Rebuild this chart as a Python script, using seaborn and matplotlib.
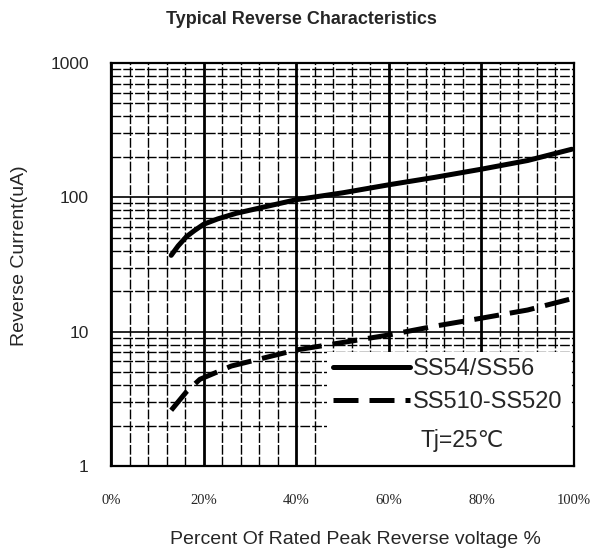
import matplotlib
matplotlib.use("Agg")
import numpy as np
import pandas as pd
import matplotlib.pyplot as plt
import seaborn as sns
from matplotlib.ticker import FixedLocator, FuncFormatter, NullFormatter
from matplotlib.patches import Rectangle
from matplotlib.lines import Line2D

# ---- data ----
pct_solid = [13, 14.5, 16.3, 18, 20, 23, 27, 40, 50, 60, 70, 80, 90, 99.5]
ir_solid = [37, 43.5, 51, 56.5, 63, 69, 76, 96, 108, 124, 141, 162, 188, 228]

pct_dash = [13, 16.3, 19.2, 26, 40, 50, 60, 70, 80, 90, 99.8]
ir_dash = [2.6, 3.57, 4.42, 5.55, 7.31, 8.3, 9.45, 11.0, 12.6, 14.5, 17.7]

series_labels = ["SS54/SS56", "SS510-SS520"]
x_ticks = [0, 20, 40, 60, 80, 100]
y_ticks = [1, 10, 100, 1000]
title = "Typical Reverse Characteristics"
x_label = "Percent Of Rated Peak Reverse voltage %"
y_label = "Reverse Current(uA)"
note = "Tj=25\u2103"

df_solid = pd.DataFrame({"pct": pct_solid, "ir": ir_solid})
df_dash = pd.DataFrame({"pct": pct_dash, "ir": ir_dash})

sns.set_style("white")
plt.rcParams["font.family"] = ["Liberation Sans", "DejaVu Sans"]

fig = plt.figure(figsize=(6.01, 5.51), dpi=100)
W, H = 601, 551
ax = fig.add_axes([111 / W, 1 - 466 / H, (574 - 111) / W, (466 - 63) / H])

sns.lineplot(data=df_solid, x="pct", y="ir", ax=ax, color="black", lw=3.6,
             legend=False, zorder=3)
sns.lineplot(data=df_dash, x="pct", y="ir", ax=ax, color="black", lw=3.6,
             legend=False, zorder=3)
ax.lines[1].set_dashes((5, 2.2))

ax.set_yscale("log")
ax.set_xlim(0, 100)
ax.set_ylim(1, 1000)

ax.xaxis.set_major_locator(FixedLocator(x_ticks))
ax.xaxis.set_minor_locator(FixedLocator([v for v in range(0, 101, 4) if v % 20]))
ax.xaxis.set_major_formatter(FuncFormatter(lambda v, p: f"{int(v)}%"))
ax.yaxis.set_major_locator(FixedLocator(y_ticks))
ax.yaxis.set_minor_locator(FixedLocator([m * 10 ** e for e in range(0, 3) for m in range(2, 10)]))
ax.yaxis.set_major_formatter(FuncFormatter(lambda v, p: f"{int(v)}"))
ax.yaxis.set_minor_formatter(NullFormatter())

ax.set_axisbelow(True)
minor_ls = (0, (7, 1.5))
ax.grid(which="major", axis="x", color="black", lw=2.0, ls="-")
ax.grid(which="minor", axis="x", color="black", lw=1.0, ls=minor_ls)
ax.grid(which="major", axis="y", color="black", lw=1.2, ls="-")
ax.grid(which="minor", axis="y", color="black", lw=1.0, ls=minor_ls)

for s in ax.spines.values():
    s.set_visible(True)
    s.set_color("black")
    s.set_linewidth(1.6)

ax.tick_params(axis="both", which="both", length=0)
ax.tick_params(axis="x", which="major", pad=20, labelsize=10.5)
ax.tick_params(axis="y", which="major", pad=16, labelsize=12.5)
for t in ax.get_xticklabels():
    t.set_family(["Liberation Serif", "DejaVu Serif"])
ax.set_xlabel("")
ax.set_ylabel("")

# legend area
x0 = (327 - 111) / 463
x1 = (571 - 111) / 463
y1 = (466 - 352) / 403
ax.add_patch(Rectangle((x0, 0), x1 - x0, y1, transform=ax.transAxes,
                       facecolor="white", edgecolor="none", zorder=2.5))
handles = [Line2D([], [], color="black", lw=3.6),
           Line2D([], [], color="black", lw=3.6, dashes=(5, 2.2))]
leg = ax.legend(handles, series_labels, loc="upper left",
                bbox_to_anchor=((333 - 111) / 463, (466 - 358) / 403),
                frameon=False, fontsize=17, handlelength=3.25,
                handletextpad=0.12, borderpad=0, borderaxespad=0,
                labelspacing=0.46)
leg.set_zorder(4)
ax.text((462 - 111) / 463, (466 - 441) / 403, note, transform=ax.transAxes,
        ha="center", va="center", fontsize=16.5,
        family=["Liberation Sans", "DejaVu Sans"], zorder=5)

fig.text(301 / W, 1 - 19 / H, title, ha="center", va="center",
         fontsize=13, weight="bold")
fig.text(20 / W, 1 - 256 / H, y_label, ha="center", va="center",
         rotation=90, fontsize=14)
fig.text(355 / W, 1 - 539 / H, x_label, ha="center", va="center", fontsize=14)

fig.savefig("out.png", dpi=100)
